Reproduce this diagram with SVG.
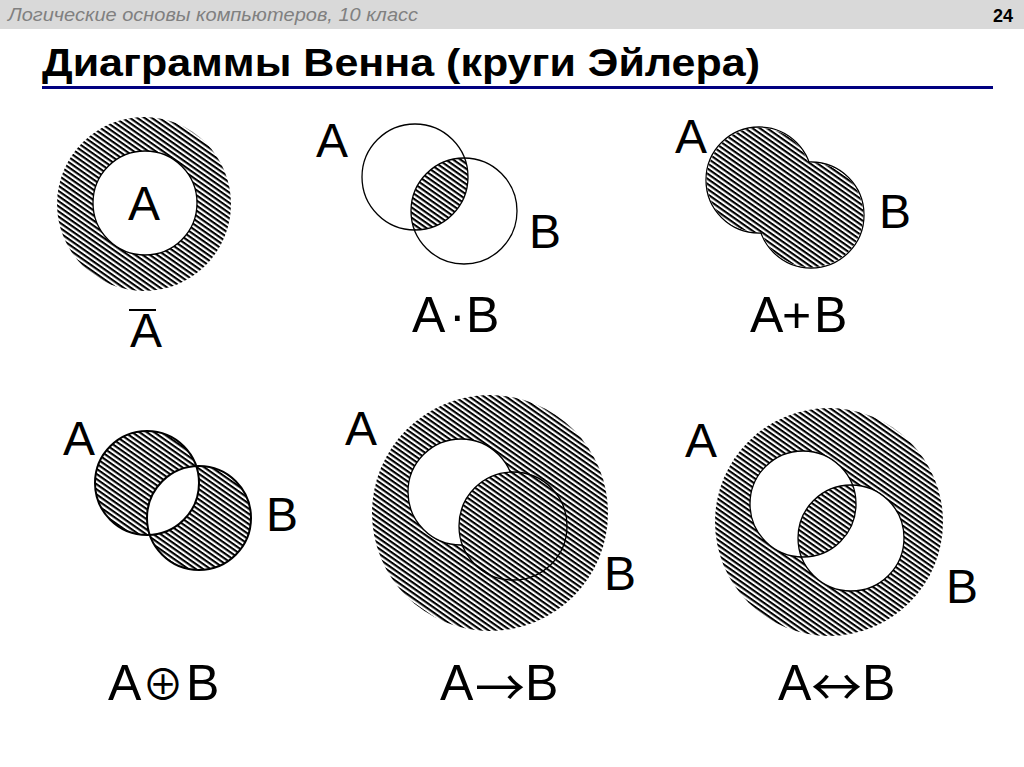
<svg xmlns="http://www.w3.org/2000/svg" width="1024" height="767" viewBox="0 0 1024 767">
<style>
  .lbl{font-family:"Liberation Sans",Arial,sans-serif;font-size:48px;fill:#000}
  .frm{font-family:"Liberation Sans",Arial,sans-serif;font-size:50px;fill:#000}
  .arr{font-family:"Noto Sans CJK JP","DejaVu Sans",sans-serif}
  .ln{fill:none;stroke:#000;stroke-width:1.3}
  .ln2{fill:none;stroke:#000;stroke-width:2}
  .h{fill:url(#hatch)}
  .w{fill:#fff}
</style>
<defs>
  <pattern id="hatch" patternUnits="userSpaceOnUse" width="8" height="4.2" patternTransform="rotate(35)">
    <rect x="0" y="0" width="8" height="4.2" fill="#fff"/>
    <rect x="0" y="0" width="8" height="2.1" fill="#000"/>
  </pattern>
  <clipPath id="c2A"><circle cx="415" cy="177" r="53"/></clipPath>
  <clipPath id="c4A"><circle cx="147" cy="483" r="52"/></clipPath>
  <clipPath id="c6A"><circle cx="803" cy="504" r="53"/></clipPath>
</defs>
<rect x="0" y="0" width="1024" height="767" fill="#fff"/>

<g id="header">
  <rect x="0" y="0" width="1024" height="29" fill="#d9d9d9"/>
  <text x="8" y="21" font-family="'Liberation Sans',Arial,sans-serif" font-size="18" font-style="italic" fill="#808080" textLength="410" lengthAdjust="spacingAndGlyphs">Логические основы компьютеров, 10 класс</text>
  <text x="1013" y="22" font-family="'Liberation Sans',Arial,sans-serif" font-size="18" font-weight="bold" fill="#000" text-anchor="end">24</text>
</g>

<g id="title">
  <text x="42" y="76" font-family="'Liberation Sans',Arial,sans-serif" font-size="39" font-weight="bold" fill="#000" textLength="718" lengthAdjust="spacingAndGlyphs">Диаграммы Венна (круги Эйлера)</text>
  <rect x="42" y="86" width="951" height="3" fill="#000080"/>
</g>

<g id="not-a">
  <circle cx="144" cy="204" r="87" class="h"/>
  <circle cx="145" cy="203" r="52" class="w"/>
  <circle cx="145" cy="203" r="52" class="ln"/>
  <text x="128" y="220" class="lbl" font-size="51">A</text>
  <line x1="129" y1="310" x2="156" y2="310" stroke="#000" stroke-width="2"/>
  <text x="130" y="347" class="lbl" font-size="39">A</text>
</g>

<g id="and">
  <circle cx="464" cy="211" r="53" class="h" clip-path="url(#c2A)"/>
  <circle cx="415" cy="177" r="53" class="ln"/>
  <circle cx="464" cy="211" r="53" class="ln"/>
  <text x="316" y="157" class="lbl">A</text>
  <text x="529" y="248" class="lbl">B</text>
  <text y="332" class="frm"><tspan x="412">A</tspan><tspan x="449">·</tspan><tspan x="466">B</tspan></text>
</g>

<g id="or">
  <circle cx="759" cy="180" r="53" class="ln"/>
  <circle cx="811" cy="215" r="53" class="ln"/>
  <circle cx="759" cy="180" r="52.3" class="h"/>
  <circle cx="811" cy="215" r="52.3" class="h"/>
  <text x="675" y="153" class="lbl">A</text>
  <text x="879" y="228" class="lbl">B</text>
  <text y="332" class="frm"><tspan x="750">A</tspan><tspan x="782">+</tspan><tspan x="814">B</tspan></text>
</g>

<g id="xor">
  <circle cx="147" cy="483" r="52" class="h"/>
  <circle cx="199" cy="518" r="52" class="h"/>
  <circle cx="199" cy="518" r="52" class="w" clip-path="url(#c4A)"/>
  <circle cx="147" cy="483" r="52" class="ln2"/>
  <circle cx="199" cy="518" r="52" class="ln2"/>
  <text x="63" y="455" class="lbl">A</text>
  <text x="266" y="531" class="lbl">B</text>
  <text y="700" class="frm"><tspan x="108">A</tspan><tspan x="142" class="arr" font-size="42">⊕</tspan><tspan x="186">B</tspan></text>
</g>

<g id="implies">
  <circle cx="490" cy="513" r="118" class="h"/>
  <circle cx="461" cy="492" r="53" class="w"/>
  <circle cx="461" cy="492" r="53" class="ln" stroke-width="1"/>
  <circle cx="513" cy="526" r="54" class="h"/>
  <circle cx="513" cy="526" r="54" class="ln"/>
  <text x="345" y="445" class="lbl">A</text>
  <text x="604" y="590" class="lbl">B</text>
  <text y="700" class="frm"><tspan x="440">A</tspan><tspan x="475" class="arr" font-size="50" dy="6">→</tspan><tspan x="525" dy="-6">B</tspan></text>
</g>

<g id="equiv">
  <circle cx="829" cy="522" r="114" class="h"/>
  <circle cx="803" cy="504" r="53" class="w"/>
  <circle cx="851" cy="538" r="53" class="w"/>
  <circle cx="851" cy="538" r="53" class="h" clip-path="url(#c6A)"/>
  <circle cx="803" cy="504" r="53" class="ln"/>
  <circle cx="851" cy="538" r="53" class="ln"/>
  <text x="685" y="457" class="lbl">A</text>
  <text x="946" y="603" class="lbl">B</text>
  <text y="700" class="frm"><tspan x="778">A</tspan><tspan x="811" class="arr" font-size="51" dy="6">↔</tspan><tspan x="862" dy="-6">B</tspan></text>
</g>
</svg>
